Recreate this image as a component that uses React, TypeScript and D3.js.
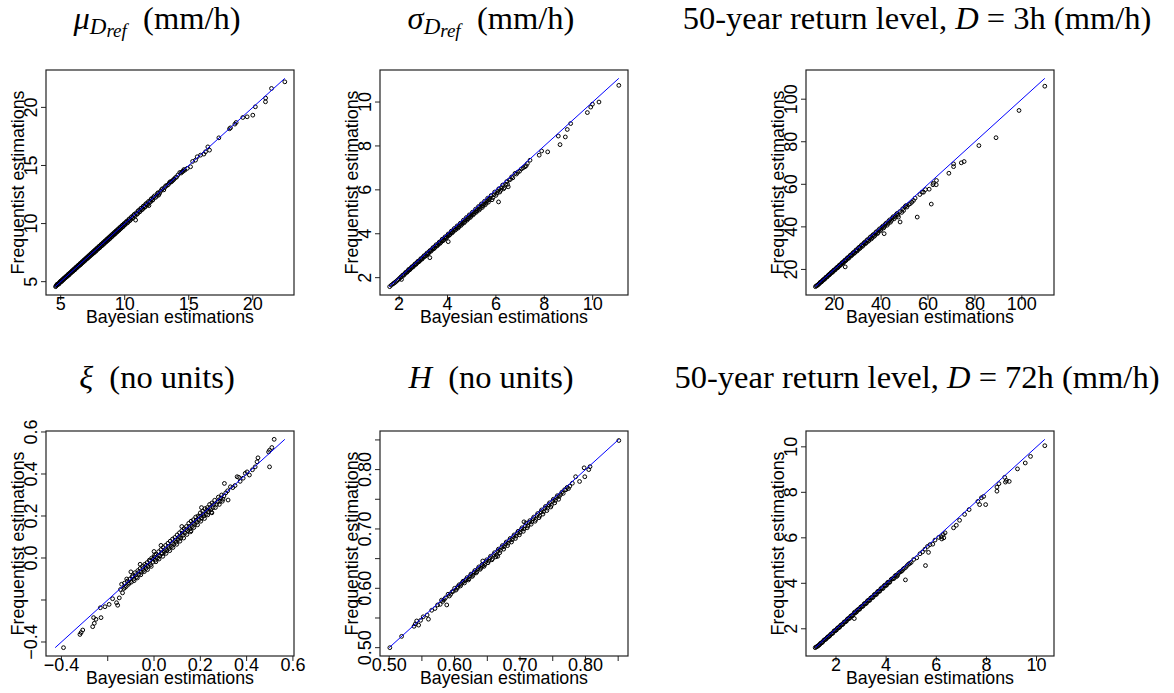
import React from "react";
import * as d3 from "d3";

type Pt = [number, number];

// [Bayesian, Frequentist] pairs
const muPoints: Pt[] = [
  [4.60,4.57],[4.68,4.70],[4.75,4.72],[4.82,4.85],[4.90,4.86],[4.97,5.01],[5.05,5.00],[5.12,5.15],[5.20,5.16],[5.27,5.30],
  [5.35,5.31],[5.42,5.45],[5.50,5.44],[5.57,5.60],[5.65,5.58],[5.72,5.74],[5.80,5.75],[5.88,5.90],[5.95,5.88],[6.03,6.05],
  [6.10,6.02],[6.18,6.20],[6.25,6.18],[6.33,6.35],[6.40,6.33],[6.48,6.50],[6.55,6.46],[6.63,6.65],[6.70,6.62],[6.78,6.80],
  [6.85,6.76],[6.93,6.95],[7.00,6.92],[7.08,7.10],[7.15,7.05],[7.23,7.25],[7.30,7.20],[7.38,7.40],[7.45,7.35],[7.53,7.55],
  [7.60,7.48],[7.68,7.70],[7.75,7.62],[7.83,7.85],[7.90,7.80],[7.98,8.00],[8.05,7.92],[8.13,8.15],[8.20,8.08],[8.28,8.30],
  [8.35,8.22],[8.43,8.45],[8.50,8.38],[8.58,8.60],[8.65,8.52],[8.73,8.75],[8.80,8.66],[8.88,8.90],[8.95,8.82],[9.03,9.05],
  [9.10,8.98],[9.18,9.20],[9.25,9.12],[9.33,9.35],[9.40,9.28],[9.48,9.50],[9.55,9.42],[9.63,9.65],[9.70,9.58],[9.78,9.80],
  [9.85,9.72],[9.93,9.95],[10.00,9.88],[10.10,10.12],[10.20,10.05],[10.30,10.32],[10.40,10.25],[10.50,10.52],[10.60,10.45],
  [10.70,10.72],[10.85,10.30],[10.80,10.65],[10.90,10.92],[11.00,10.85],[11.10,11.12],[11.20,11.05],[11.30,11.32],
  [11.40,11.25],[11.50,11.52],[11.60,11.45],[11.70,11.72],[11.89,11.55],[11.80,11.66],[11.95,11.90],[12.05,12.08],
  [12.15,12.00],[12.25,12.28],[12.40,12.25],[12.55,12.58],[12.65,12.45],[12.80,12.78],[12.95,13.00],[13.05,12.90],
  [13.20,13.25],[13.40,13.35],[13.55,13.60],[13.70,13.65],[13.85,13.82],[14.05,14.00],[14.30,14.40],[14.40,14.35],
  [14.55,14.50],[14.70,14.60],[14.88,14.75],[15.14,14.89],[15.30,15.35],[15.53,15.46],[15.66,15.75],[15.92,15.89],
  [16.18,15.98],[16.31,16.18],[16.49,16.60],[16.62,16.32],[17.35,17.38],[18.18,18.16],[18.26,18.24],[18.60,18.56],
  [18.70,18.70],[19.22,19.13],[19.56,19.19],[20.00,19.33],[20.20,20.05],[20.99,20.48],[21.00,20.80],[21.46,21.63],
  [22.50,22.20],
  [4.64,4.62],[4.72,4.78],[4.86,4.80],[4.93,4.96],[5.01,5.06],[5.09,5.04],[5.16,5.21],[5.24,5.20],[5.31,5.36],[5.39,5.35],
  [5.46,5.50],[5.54,5.49],[5.61,5.66],[5.69,5.64],[5.76,5.80],[5.84,5.80],[5.91,5.96],[5.99,5.94],[6.06,6.11],[6.14,6.08],
  [6.21,6.26],[6.29,6.24],[6.36,6.41],[6.44,6.38],[6.51,6.56],[6.59,6.52],[6.66,6.71],[6.74,6.68],[6.81,6.86],[6.89,6.82],
  [6.96,7.01],[7.04,6.97],[7.11,7.16],[7.19,7.12],[7.26,7.31],[7.34,7.26],[7.41,7.46],[7.49,7.40],[7.56,7.61],[7.64,7.55],
  [7.71,7.76],[7.79,7.70],[7.86,7.91],[7.94,7.84],[8.01,8.06],[8.09,7.99],[8.16,8.21],[8.24,8.13],[8.31,8.36],[8.39,8.28],
  [8.46,8.51],[8.54,8.43],[8.61,8.66],[8.69,8.58],[8.76,8.81],[8.84,8.72],[8.91,8.96],[8.99,8.87],[9.06,9.11],[9.14,9.02],
  [9.21,9.26],[9.29,9.17],[9.36,9.41],[9.44,9.32],[9.51,9.56],[9.59,9.47],[9.66,9.71],[9.74,9.62],[9.81,9.86],[9.89,9.77],
  [9.96,10.01],[10.05,9.95],[10.15,10.20],[10.25,10.12],[10.35,10.40],[10.45,10.32],[10.55,10.60],[10.65,10.52],
  [10.75,10.80],[10.95,10.80],[11.05,11.10],[11.15,11.00],[11.25,11.30],[11.35,11.20],[11.45,11.50],[11.55,11.40],
  [11.65,11.70],[11.75,11.60],[11.85,11.90],[12.00,11.85],[12.10,12.15],[12.20,12.05],[12.32,12.38],[12.48,12.35],
  [12.60,12.65],[12.72,12.60],[12.88,12.92],[13.12,13.10],[13.30,13.28],[13.48,13.50],[13.62,13.58],[13.78,13.75],
  [13.95,13.95],[14.15,14.18],[14.48,14.45],[14.62,14.65],
];

const sigmaPoints: Pt[] = [
  [1.61,1.59],[1.75,1.72],[1.85,1.80],[1.95,1.90],[2.05,2.00],[2.10,1.92],[2.15,2.12],[2.22,2.15],[2.28,2.25],[2.35,2.28],
  [2.40,2.38],[2.47,2.40],[2.53,2.50],[2.60,2.52],[2.66,2.63],[2.72,2.64],[2.78,2.75],[2.85,2.76],[2.90,2.87],[2.97,2.88],
  [3.03,3.00],[3.10,3.00],[3.15,3.12],[3.22,3.12],[3.27,2.91],[3.28,3.24],[3.35,3.25],[3.40,3.37],[3.47,3.36],[3.53,3.50],
  [3.60,3.48],[3.66,3.62],[3.72,3.60],[3.78,3.75],[3.85,3.72],[3.90,3.86],[3.97,3.84],[4.03,3.64],[4.03,3.99],[4.10,3.96],
  [4.16,4.12],[4.22,4.08],[4.28,4.24],[4.35,4.20],[4.40,4.36],[4.47,4.32],[4.53,4.48],[4.60,4.44],[4.66,4.62],[4.72,4.56],
  [4.78,4.74],[4.85,4.68],[4.90,4.86],[4.97,4.80],[5.03,4.98],[5.10,4.92],[5.16,5.12],[5.22,5.05],[5.28,5.24],[5.35,5.15],
  [5.40,5.36],[5.47,5.28],[5.53,5.48],[5.60,5.40],[5.66,5.62],[5.72,5.55],[5.80,5.74],[5.88,5.65],[5.95,5.90],[6.05,5.85],
  [6.11,5.45],[6.12,6.05],[6.20,5.98],[6.28,6.22],[6.35,6.10],[6.45,6.38],[6.51,6.14],[6.55,6.45],[6.65,6.59],[6.79,6.75],
  [6.90,6.80],[7.05,6.95],[7.20,7.05],[7.30,7.20],[7.41,7.35],[7.79,7.58],[7.89,7.77],[8.14,7.73],[8.58,8.45],[8.65,8.06],
  [8.87,8.41],[8.95,8.75],[9.09,9.02],[9.78,9.52],[9.92,9.77],[9.99,9.90],[10.26,10.00],[11.08,10.76],
  [1.68,1.66],[1.80,1.76],[1.90,1.85],[2.00,1.95],[2.08,2.04],[2.18,2.10],[2.25,2.20],[2.32,2.24],[2.38,2.33],[2.44,2.36],
  [2.50,2.45],[2.56,2.48],[2.63,2.58],[2.69,2.60],[2.75,2.70],[2.81,2.72],[2.88,2.82],[2.94,2.84],[3.00,2.95],[3.06,2.96],
  [3.13,3.07],[3.19,3.08],[3.25,3.20],[3.31,3.20],[3.38,3.32],[3.44,3.32],[3.50,3.44],[3.56,3.44],[3.63,3.56],[3.69,3.56],
  [3.75,3.68],[3.81,3.68],[3.88,3.80],[3.94,3.80],[4.00,3.92],[4.06,3.92],[4.13,4.04],[4.19,4.04],[4.25,4.16],[4.31,4.16],
  [4.38,4.28],[4.44,4.26],[4.50,4.40],[4.56,4.38],[4.63,4.52],[4.69,4.50],[4.75,4.64],[4.81,4.62],[4.88,4.76],[4.94,4.74],
  [5.00,4.88],[5.06,4.86],[5.13,5.00],[5.19,4.98],[5.25,5.12],[5.31,5.08],[5.38,5.25],[5.44,5.20],[5.50,5.36],[5.56,5.32],
  [5.63,5.50],[5.69,5.44],[5.76,5.62],[5.84,5.55],[5.92,5.78],[6.00,5.75],[6.08,5.95],[6.16,5.90],[6.24,6.10],[6.32,6.05],
  [6.40,6.25],[6.48,6.25],[6.60,6.48],[6.70,6.55],[6.85,6.72],[6.98,6.85],[7.12,7.00],[7.25,7.10],
];

const rl3Points: Pt[] = [
  [12.0,11.9],[12.8,12.5],[13.5,13.2],[14.0,13.9],[14.6,14.2],[15.2,15.0],[15.8,15.3],[16.3,16.1],[16.9,16.4],[17.5,17.3],
  [18.0,17.5],[18.6,18.4],[19.2,18.6],[19.7,19.5],[20.3,19.7],[20.9,20.6],[21.5,20.8],[22.0,21.7],[22.6,21.9],[23.2,22.9],
  [23.8,23.0],[24.3,24.0],[24.7,21.2],[24.9,24.1],[25.5,25.2],[26.1,25.2],[26.7,26.4],[27.3,26.4],[27.9,27.6],[28.5,27.5],
  [29.1,28.8],[29.7,28.6],[30.3,30.0],[30.9,29.8],[31.5,31.2],[32.1,30.9],[32.7,32.4],[33.3,32.1],[33.9,33.6],[34.5,33.2],
  [35.2,34.9],[35.8,34.3],[36.4,36.0],[37.0,35.5],[37.7,37.3],[38.4,36.8],[39.0,38.6],[39.7,38.2],[40.4,39.9],[41.3,36.8],
  [41.1,39.5],[41.8,41.3],[42.6,40.8],[43.3,42.8],[44.0,42.2],[44.8,44.2],[45.6,43.8],[46.4,45.7],[47.2,45.5],[47.4,44.6],
  [48.1,42.3],[48.0,47.2],[48.8,46.8],[49.6,47.7],[50.2,49.5],[51.0,49.3],[51.8,50.5],[52.4,50.9],[53.1,51.6],[53.8,52.4],
  [54.5,53.5],[55.4,44.6],[56.5,55.2],[57.5,56.3],[58.1,56.3],[58.9,57.5],[60.5,57.7],[61.4,50.7],[62.1,59.8],[62.3,60.5],
  [63.5,59.8],[63.6,61.8],[68.9,65.2],[70.9,68.3],[70.9,69.6],[74.2,70.1],[75.4,70.7],[81.7,78.2],[89.0,81.9],[98.8,94.7],
  [109.8,106.1],
  [12.4,12.3],[13.1,12.8],[13.8,13.5],[14.3,14.1],[14.9,14.5],[15.5,15.3],[16.0,15.6],[16.6,16.4],[17.2,16.8],[17.8,17.6],
  [18.3,17.9],[18.9,18.7],[19.5,19.0],[20.0,19.8],[20.6,20.1],[21.2,21.0],[21.8,21.2],[22.3,22.1],[22.9,22.3],[23.5,23.3],
  [24.1,23.4],[24.6,24.4],[25.2,24.5],[25.8,25.6],[26.4,25.6],[27.0,26.8],[27.6,26.8],[28.2,28.0],[28.8,27.9],[29.4,29.2],
  [30.0,29.0],[30.6,30.4],[31.2,30.2],[31.8,31.6],[32.4,31.4],[33.0,32.8],[33.6,32.5],[34.2,34.0],[34.8,33.6],[35.5,35.3],
  [36.1,34.8],[36.7,36.4],[37.4,36.0],[38.0,37.7],[38.7,37.3],[39.4,39.1],[40.0,38.8],[40.8,40.4],[41.5,40.2],[42.2,41.8],
  [43.0,41.6],[43.7,43.3],[44.4,43.0],[45.2,44.8],[46.0,44.6],[46.8,46.3],[49.2,48.5],[50.6,50.0],
];

const xiPoints: Pt[] = [
  [-0.391,-0.427],[-0.315,-0.355],[-0.308,-0.343],[-0.320,-0.364],[-0.265,-0.327],[-0.258,-0.311],[-0.261,-0.284],
  [-0.251,-0.292],[-0.229,-0.284],[-0.232,-0.237],[-0.212,-0.232],[-0.194,-0.221],[-0.179,-0.194],[-0.162,-0.213],
  [-0.157,-0.225],[-0.150,-0.190],[-0.136,-0.166],[-0.145,-0.150],[-0.130,-0.145],[-0.128,-0.120],[-0.120,-0.135],
  [-0.115,-0.110],[-0.110,-0.125],[-0.100,-0.066],[-0.104,-0.100],[-0.098,-0.115],[-0.092,-0.085],[-0.088,-0.100],
  [-0.082,-0.070],[-0.076,-0.090],[-0.070,-0.060],[-0.066,-0.078],[-0.060,-0.050],[-0.055,-0.068],[-0.050,-0.040],
  [-0.045,-0.058],[-0.040,-0.030],[-0.035,-0.050],[-0.030,-0.022],[-0.025,-0.040],[-0.020,-0.010],[-0.015,-0.032],
  [-0.010,0.000],[-0.005,-0.020],[0.000,0.031],[0.000,0.005],[0.005,-0.010],[0.010,0.018],[0.015,0.000],[0.020,0.030],
  [0.025,0.010],[0.030,0.040],[0.035,0.020],[0.040,0.050],[0.045,0.030],[0.050,0.060],[0.055,0.035],[0.060,0.070],
  [0.065,0.045],[0.070,0.080],[0.075,0.055],[0.080,0.090],[0.085,0.065],[0.090,0.098],[0.095,0.075],[0.100,0.110],
  [0.105,0.088],[0.110,0.120],[0.115,0.095],[0.120,0.130],[0.125,0.108],[0.130,0.140],[0.135,0.120],[0.140,0.150],
  [0.145,0.130],[0.150,0.165],[0.155,0.140],[0.160,0.175],[0.165,0.150],[0.170,0.182],[0.175,0.160],[0.180,0.195],
  [0.185,0.170],[0.190,0.200],[0.195,0.182],[0.200,0.215],[0.205,0.190],[0.210,0.222],[0.215,0.200],[0.220,0.235],
  [0.225,0.208],[0.230,0.240],[0.235,0.220],[0.240,0.255],[0.245,0.230],[0.250,0.262],[0.255,0.240],[0.262,0.275],
  [0.270,0.255],[0.278,0.290],[0.285,0.270],[0.292,0.300],[0.298,0.280],[0.304,0.355],[0.320,0.276],[0.310,0.310],
  [0.318,0.320],[0.330,0.339],[0.340,0.335],[0.350,0.345],[0.359,0.387],[0.366,0.384],[0.372,0.365],[0.385,0.380],
  [0.394,0.403],[0.402,0.410],[0.412,0.395],[0.425,0.420],[0.437,0.434],[0.445,0.458],[0.449,0.477],[0.499,0.434],
  [0.495,0.505],[0.499,0.513],[0.509,0.526],[0.519,0.565],
  [-0.140,-0.125],[-0.125,-0.140],[-0.118,-0.100],[-0.107,-0.118],[-0.095,-0.090],[-0.086,-0.108],[-0.079,-0.080],
  [-0.072,-0.095],[-0.063,-0.065],[-0.057,-0.080],[-0.048,-0.050],[-0.042,-0.065],[-0.033,-0.035],[-0.028,-0.055],
  [-0.018,-0.015],[-0.012,-0.040],[-0.003,-0.005],[0.003,0.015],[0.008,-0.018],[0.018,0.012],[0.022,-0.005],[0.032,0.025],
  [0.038,0.008],[0.048,0.040],[0.052,0.022],[0.062,0.055],[0.068,0.035],[0.078,0.070],[0.082,0.050],[0.092,0.085],
  [0.098,0.065],[0.108,0.100],[0.112,0.080],[0.122,0.118],[0.128,0.095],[0.138,0.135],[0.142,0.112],[0.152,0.150],
  [0.158,0.125],[0.168,0.165],[0.172,0.145],[0.182,0.180],[0.188,0.158],[0.198,0.198],[0.202,0.175],[0.212,0.210],
  [0.218,0.188],[0.228,0.228],[0.232,0.205],[0.242,0.240],[0.248,0.218],[0.258,0.255],[0.265,0.240],[0.275,0.268],
  [0.282,0.255],[0.288,0.285],[0.295,0.270],[0.302,0.295],[0.030,0.060],[0.120,0.150],[0.205,0.240],[-0.060,-0.030],
  [0.160,0.130],[0.250,0.215],
];

const hPoints: Pt[] = [
  [0.501,0.500],[0.519,0.519],[0.538,0.536],[0.542,0.545],[0.545,0.538],[0.540,0.540],[0.548,0.546],[0.552,0.552],
  [0.558,0.555],[0.560,0.548],[0.565,0.563],[0.570,0.566],[0.574,0.572],[0.578,0.573],[0.580,0.580],[0.584,0.581],
  [0.588,0.572],[0.590,0.590],[0.594,0.590],[0.598,0.595],[0.600,0.600],[0.604,0.600],[0.607,0.606],[0.610,0.607],
  [0.613,0.612],[0.616,0.613],[0.619,0.618],[0.622,0.616],[0.625,0.624],[0.628,0.622],[0.631,0.630],[0.634,0.628],
  [0.637,0.636],[0.640,0.634],[0.643,0.646],[0.643,0.638],[0.646,0.640],[0.649,0.648],[0.652,0.646],[0.655,0.654],
  [0.658,0.650],[0.661,0.660],[0.664,0.656],[0.666,0.654],[0.667,0.666],[0.670,0.664],[0.673,0.672],[0.676,0.670],
  [0.679,0.678],[0.682,0.676],[0.685,0.684],[0.688,0.682],[0.691,0.690],[0.694,0.688],[0.697,0.696],[0.700,0.694],
  [0.703,0.702],[0.706,0.712],[0.706,0.700],[0.709,0.710],[0.712,0.705],[0.715,0.714],[0.718,0.712],[0.721,0.720],
  [0.724,0.716],[0.727,0.726],[0.730,0.722],[0.733,0.732],[0.736,0.729],[0.739,0.738],[0.742,0.735],[0.745,0.744],
  [0.748,0.740],[0.751,0.750],[0.754,0.748],[0.757,0.756],[0.760,0.755],[0.764,0.762],[0.768,0.766],[0.772,0.770],
  [0.776,0.772],[0.785,0.788],[0.791,0.780],[0.799,0.788],[0.798,0.803],[0.805,0.800],[0.807,0.805],[0.851,0.849],
  [0.582,0.578],[0.586,0.584],[0.592,0.587],[0.596,0.594],[0.602,0.597],[0.605,0.603],[0.609,0.604],[0.612,0.610],
  [0.615,0.609],[0.618,0.615],[0.621,0.614],[0.624,0.621],[0.627,0.620],[0.630,0.627],[0.633,0.626],[0.636,0.633],
  [0.639,0.632],[0.642,0.640],[0.645,0.637],[0.648,0.645],[0.651,0.643],[0.654,0.651],[0.657,0.648],[0.660,0.657],
  [0.663,0.653],[0.666,0.663],[0.669,0.660],[0.672,0.669],[0.675,0.666],[0.678,0.675],[0.681,0.672],[0.684,0.681],
  [0.687,0.678],[0.690,0.687],[0.693,0.684],[0.696,0.693],[0.699,0.690],[0.702,0.699],[0.705,0.696],[0.708,0.705],
  [0.711,0.702],[0.714,0.711],[0.717,0.708],[0.720,0.717],[0.723,0.713],[0.726,0.723],[0.729,0.719],[0.732,0.729],
  [0.735,0.725],[0.738,0.735],[0.741,0.731],[0.744,0.741],[0.747,0.737],[0.750,0.747],[0.753,0.744],[0.756,0.753],
  [0.759,0.750],[0.762,0.758],[0.766,0.760],[0.770,0.766],[0.774,0.768],[0.780,0.777],
];

const rl72Points: Pt[] = [
  [1.17,1.17],[1.25,1.22],[1.32,1.28],[1.38,1.36],[1.45,1.40],[1.52,1.50],[1.58,1.53],[1.65,1.62],[1.72,1.66],[1.78,1.75],
  [1.85,1.79],[1.92,1.90],[1.98,1.92],[2.05,2.02],[2.12,2.05],[2.18,2.15],[2.25,2.18],[2.32,2.29],[2.38,2.31],[2.45,2.42],
  [2.52,2.45],[2.58,2.55],[2.65,2.58],[2.72,2.69],[2.73,2.45],[2.78,2.71],[2.85,2.82],[2.92,2.85],[2.98,2.95],[3.05,2.98],
  [3.12,3.09],[3.18,3.10],[3.25,3.22],[3.32,3.24],[3.38,3.35],[3.45,3.37],[3.52,3.49],[3.58,3.50],[3.65,3.62],[3.72,3.64],
  [3.78,3.75],[3.85,3.77],[3.92,3.89],[3.98,3.90],[4.05,4.02],[4.12,4.03],[4.20,4.17],[4.28,4.20],[4.35,4.32],[4.42,4.30],
  [4.50,4.45],[4.60,4.52],[4.68,4.62],[4.77,4.15],[4.78,4.70],[4.90,4.85],[5.00,4.92],[5.10,5.05],[5.22,5.12],[5.35,5.30],
  [5.45,5.38],[5.57,4.78],[5.55,5.50],[5.69,5.36],[5.65,5.62],[5.75,5.70],[5.86,5.72],[5.95,5.90],[6.10,6.02],[6.20,6.05],
  [6.28,6.15],[6.30,6.00],[6.35,6.22],[6.22,5.95],[6.69,6.44],[6.80,6.55],[6.93,6.77],[7.13,7.03],[7.31,7.24],[7.66,7.60],
  [7.73,7.46],[7.80,7.76],[7.89,7.82],[7.97,7.46],[8.42,8.23],[8.42,8.05],[8.50,8.38],[8.73,8.66],[8.76,8.45],[8.80,8.52],
  [8.91,8.48],[9.24,9.03],[9.55,9.29],[9.76,9.58],[10.33,10.05],
  [1.21,1.20],[1.28,1.25],[1.35,1.31],[1.42,1.38],[1.48,1.44],[1.55,1.52],[1.62,1.57],[1.68,1.65],[1.75,1.69],[1.82,1.78],
  [1.88,1.82],[1.95,1.92],[2.02,1.95],[2.08,2.05],[2.15,2.08],[2.22,2.18],[2.28,2.21],[2.35,2.31],[2.42,2.34],[2.48,2.45],
  [2.55,2.47],[2.62,2.58],[2.68,2.60],[2.75,2.74],[2.82,2.74],[2.88,2.85],[2.95,2.87],[3.02,2.98],[3.08,3.00],[3.15,3.12],
  [3.22,3.13],[3.28,3.25],[3.35,3.26],[3.42,3.38],[3.48,3.39],[3.55,3.52],[3.62,3.52],[3.68,3.65],[3.75,3.66],[3.82,3.80],
  [3.88,3.78],[3.95,3.92],[4.02,3.92],[4.08,4.05],[4.15,4.06],[4.24,4.20],[4.32,4.22],[4.40,4.36],[4.46,4.35],[4.55,4.50],
  [4.64,4.56],[4.72,4.66],[4.84,4.78],[4.95,4.88],
];

// Ticks and their labels ("" = tick without label)
const muTicks = [5, 10, 15, 20];
const muLabels = ["5", "10", "15", "20"];
const sigmaTicks = [2, 4, 6, 8, 10];
const sigmaLabels = ["2", "4", "6", "8", "10"];
const rl3Ticks = [20, 40, 60, 80, 100];
const rl3Labels = ["20", "40", "60", "80", "100"];
const xiTicks = [-0.4, -0.2, 0.0, 0.2, 0.4, 0.6];
const xiXLabels = ["\u22120.4", "", "0.0", "0.2", "0.4", "0.6"];
const xiYLabels = ["\u22120.4", "", "0.0", "0.2", "0.4", "0.6"];
const hTicks = [0.5, 0.55, 0.6, 0.65, 0.7, 0.75, 0.8, 0.85];
const hLabels = ["0.50", "", "0.60", "", "0.70", "", "0.80", ""];
const rl72Ticks = [2, 4, 6, 8, 10];
const rl72Labels = ["2", "4", "6", "8", "10"];

const SANS = "'Liberation Sans', Arial, Helvetica, sans-serif";
const SERIF = "'Liberation Serif', 'Times New Roman', serif";

type PanelProps = {
  points: Pt[];
  ticks: number[];
  xLabels: string[];
  yLabels: string[];
  left: number;
  top: number;
};

const BOX_W = 248;
const BOX_H = 225;

function Panel({ points, ticks, xLabels, yLabels, left, top }: PanelProps) {
  const all = points.flatMap((p) => p);
  const [lo, hi] = d3.extent(all) as [number, number];
  const pad = 0.04 * (hi - lo);
  const x = d3.scaleLinear().domain([lo - pad, hi + pad]).range([left, left + BOX_W]);
  const y = d3.scaleLinear().domain([lo - pad, hi + pad]).range([top + BOX_H, top]);
  const bottom = top + BOX_H;
  const cx = left + BOX_W / 2;
  const cy = top + BOX_H / 2;
  const line = d3.line<number>().x((d) => x(d)).y((d) => y(d));
  return (
    <g>
      {points.map((p, i) => (
        <circle key={i} cx={x(p[0])} cy={y(p[1])} r={1.9} fill="none" stroke="#000" strokeWidth={1} />
      ))}
      <path d={line([lo, hi]) || ""} stroke="#0000ff" strokeWidth={1} fill="none" />
      <rect x={left} y={top} width={BOX_W} height={BOX_H} fill="none" stroke="#222" strokeWidth={1.2} />
      {ticks.map((t, i) => (
        <g key={"x" + i}>
          <line x1={x(t)} x2={x(t)} y1={bottom} y2={bottom + 5} stroke="#222" strokeWidth={1} />
          <text x={x(t)} y={bottom + 15} textAnchor="middle" fontFamily={SANS} fontSize={18} fill="#000">
            {xLabels[i]}
          </text>
        </g>
      ))}
      {ticks.map((t, i) => (
        <g key={"y" + i}>
          <line x1={left - 5} x2={left} y1={y(t)} y2={y(t)} stroke="#222" strokeWidth={1} />
          <text
            transform={`translate(${left - 9.5},${y(t)}) rotate(-90)`}
            textAnchor="middle"
            fontFamily={SANS}
            fontSize={18}
            fill="#000"
          >
            {yLabels[i]}
          </text>
        </g>
      ))}
      <text x={cx} y={bottom + 27.5} textAnchor="middle" fontFamily={SANS} fontSize={17.8} fill="#000">
        Bayesian estimations
      </text>
      <text
        transform={`translate(${left - 22.5},${cy}) rotate(-90)`}
        textAnchor="middle"
        fontFamily={SANS}
        fontSize={17.8}
        fill="#000"
      >
        Frequentist estimations
      </text>
    </g>
  );
}

const NB = "\u00A0";

function Title({ x, y, children }: { x: number; y: number; children: React.ReactNode }) {
  return (
    <text x={x} y={y} textAnchor="middle" fontFamily={SERIF} fontSize={32.5} fill="#000">
      {children}
    </text>
  );
}

export default function App() {
  const colX = [46, 380, 806];
  const rowY = [70, 431];
  const titleX = [157, 491, 917];
  const titleY = [29, 388];
  return (
    <svg width={1174} height={693} style={{ position: "absolute", left: 0, top: 0, background: "#fff" }}>
      <rect x={0} y={0} width={1174} height={693} fill="#fff" />
      <Title x={titleX[0]} y={titleY[0]}>
        <tspan fontStyle="italic">μ</tspan>
        <tspan fontStyle="italic" fontSize={23} dy={5}>D</tspan>
        <tspan fontStyle="italic" fontSize={19} dy={3}>ref</tspan>
        <tspan dy={-8}>{NB + NB + "(mm/h)"}</tspan>
      </Title>
      <Title x={titleX[1]} y={titleY[0]}>
        <tspan fontStyle="italic">σ</tspan>
        <tspan fontStyle="italic" fontSize={23} dy={5}>D</tspan>
        <tspan fontStyle="italic" fontSize={19} dy={3}>ref</tspan>
        <tspan dy={-8}>{NB + NB + "(mm/h)"}</tspan>
      </Title>
      <Title x={titleX[2]} y={titleY[0]}>
        <tspan>{"50-year return level," + NB}</tspan>
        <tspan fontStyle="italic">D</tspan>
        <tspan>{NB + "=" + NB + "3h" + NB + "(mm/h)"}</tspan>
      </Title>
      <Title x={titleX[0]} y={titleY[1]}>
        <tspan fontStyle="italic">ξ</tspan>
        <tspan>{NB + NB + "(no units)"}</tspan>
      </Title>
      <Title x={titleX[1]} y={titleY[1]}>
        <tspan fontStyle="italic">H</tspan>
        <tspan>{NB + NB + "(no units)"}</tspan>
      </Title>
      <Title x={titleX[2]} y={titleY[1]}>
        <tspan>{"50-year return level," + NB}</tspan>
        <tspan fontStyle="italic">D</tspan>
        <tspan>{NB + "=" + NB + "72h" + NB + "(mm/h)"}</tspan>
      </Title>

      <Panel points={muPoints} ticks={muTicks} xLabels={muLabels} yLabels={muLabels} left={colX[0]} top={rowY[0]} />
      <Panel points={sigmaPoints} ticks={sigmaTicks} xLabels={sigmaLabels} yLabels={sigmaLabels} left={colX[1]} top={rowY[0]} />
      <Panel points={rl3Points} ticks={rl3Ticks} xLabels={rl3Labels} yLabels={rl3Labels} left={colX[2]} top={rowY[0]} />
      <Panel points={xiPoints} ticks={xiTicks} xLabels={xiXLabels} yLabels={xiYLabels} left={colX[0]} top={rowY[1]} />
      <Panel points={hPoints} ticks={hTicks} xLabels={hLabels} yLabels={hLabels} left={colX[1]} top={rowY[1]} />
      <Panel points={rl72Points} ticks={rl72Ticks} xLabels={rl72Labels} yLabels={rl72Labels} left={colX[2]} top={rowY[1]} />
    </svg>
  );
}
